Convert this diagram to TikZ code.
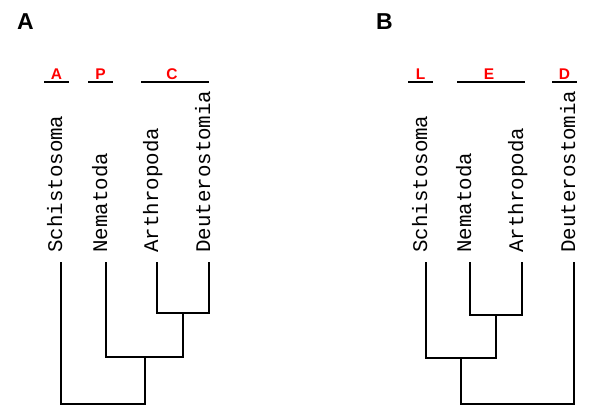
\documentclass[tikz,border=0pt]{standalone}
\usepackage{fontspec}
\setmainfont{Liberation Sans}
\newfontfamily\leafmono{Liberation Mono}
\begin{document}
\begin{tikzpicture}[x=1pt,y=-1pt,
  panel/.style={font=\fontsize{23}{23}\selectfont\bfseries, inner sep=0pt, anchor=base west},
  group/.style={font=\fontsize{15.5}{15.5}\selectfont\bfseries, text=red, inner sep=0pt, anchor=base},
  groupline/.style={line width=1.6pt},
  leaf/.style={font=\leafmono\fontsize{20.8}{20.8}\selectfont, inner sep=0pt, rotate=90, anchor=base west},
  branch/.style={line width=1.6pt, line cap=rect, line join=miter}]
\useasboundingbox (0,0) rectangle (600,417);

% panel labels
\node[panel] (pA) at (17,30) {A};
\node[panel] (pB) at (376,30) {B};

% ---------- Panel A ----------
\node[group] (gA) at (56.5,79.5) {A};
\node[group] (gP) at (100.5,79.5) {P};
\node[group] (gC) at (172,79.5) {C};
\coordinate (gA1) at (44,82); \coordinate (gA2) at (69,82);
\coordinate (gP1) at (88,82); \coordinate (gP2) at (113,82);
\coordinate (gC1) at (141,82); \coordinate (gC2) at (209,82);
\draw[groupline] (gA1) -- (gA2);
\draw[groupline] (gP1) -- (gP2);
\draw[groupline] (gC1) -- (gC2);

\node[leaf] (aSt) at (62,253) {Schistosoma};
\node[leaf] (aNt) at (107,253) {Nematoda};
\node[leaf] (aAt) at (158,253) {Arthropoda};
\node[leaf] (aDt) at (210,253) {Deuterostomia};

\coordinate (aS) at (61,263);
\coordinate (aN) at (106,263);
\coordinate (aA) at (157,263);
\coordinate (aD) at (209,263);
\coordinate (aAD) at (183,313);
\coordinate (aNAD) at (145,357);
\coordinate (aR) at (103,404);

\draw[branch] (aA) |- (aAD) -| (aD);
\draw[branch] (aN) |- (aNAD) -| (aAD);
\draw[branch] (aS) |- (aR) -| (aNAD);

% ---------- Panel B ----------
\node[group] (gL) at (420.5,79.5) {L};
\node[group] (gE) at (489,79.5) {E};
\node[group] (gD) at (564.5,79.5) {D};
\coordinate (gL1) at (408,82); \coordinate (gL2) at (433,82);
\coordinate (gE1) at (457,82); \coordinate (gE2) at (525,82);
\coordinate (gD1) at (552,82); \coordinate (gD2) at (577,82);
\draw[groupline] (gL1) -- (gL2);
\draw[groupline] (gE1) -- (gE2);
\draw[groupline] (gD1) -- (gD2);

\node[leaf] (bSt) at (427,253) {Schistosoma};
\node[leaf] (bNt) at (471,253) {Nematoda};
\node[leaf] (bAt) at (523,253) {Arthropoda};
\node[leaf] (bDt) at (575,253) {Deuterostomia};

\coordinate (bS) at (426,263);
\coordinate (bN) at (470,263);
\coordinate (bA) at (522,263);
\coordinate (bD) at (574,263);
\coordinate (bNA) at (496,315);
\coordinate (bSNA) at (461,358);
\coordinate (bR) at (518,404);

\draw[branch] (bN) |- (bNA) -| (bA);
\draw[branch] (bS) |- (bSNA) -| (bNA);
\draw[branch] (bSNA) |- (bR) -| (bD);
\end{tikzpicture}
\end{document}
